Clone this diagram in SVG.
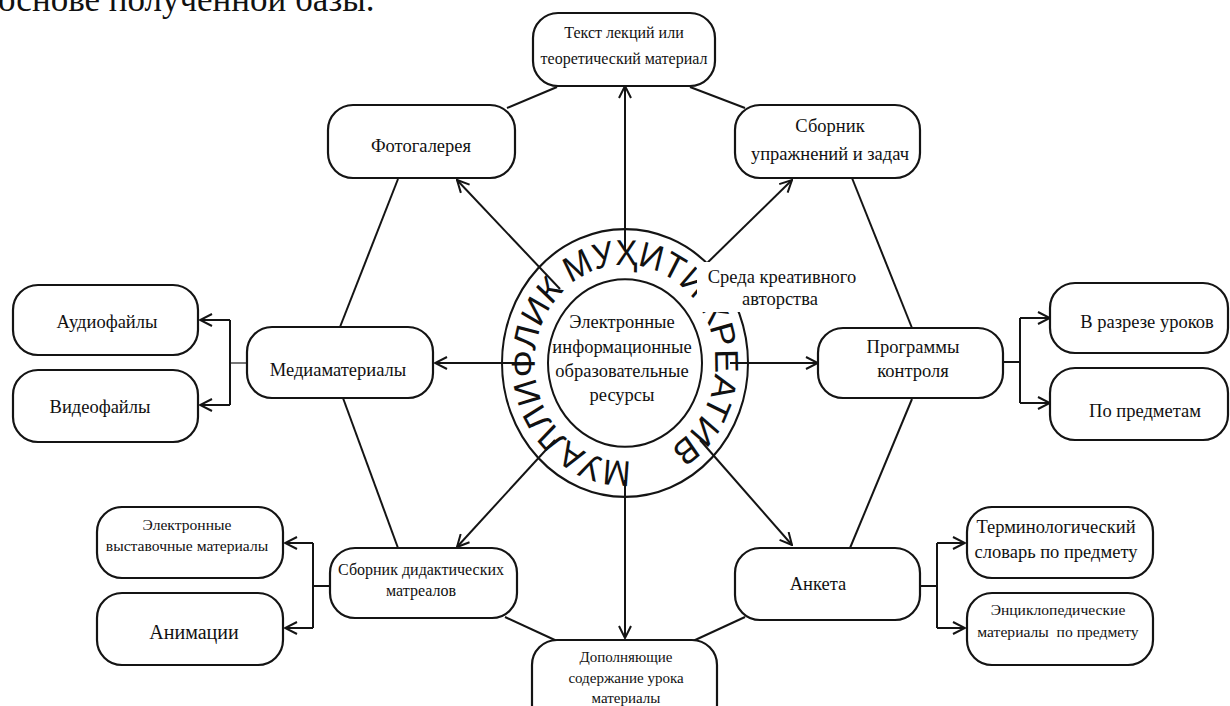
<svg xmlns="http://www.w3.org/2000/svg" width="1230" height="706" viewBox="0 0 1230 706">
  <style>
    .box { fill: #ffffff; stroke: #141414; stroke-width: 2.2; }
    .ln { fill: none; stroke: #141414; stroke-width: 2; }
    .arw { fill: none; stroke: #141414; stroke-width: 2; marker-end: url(#head); }
    .t { font-family: "Liberation Serif", "Times New Roman", serif; fill: #111; text-anchor: middle; }
    .s18 { font-size: 18.5px; }
    .s16 { font-size: 16px; }
    .s15 { font-size: 15px; }
    .s155 { font-size: 15.6px; }
    .ring { fill: none; stroke: #141414; stroke-width: 2; }
    .ringtext { font-family: "Liberation Sans", "DejaVu Sans", Arial, sans-serif; font-size: 33px; fill: #111; letter-spacing: -0.2px; }
  </style>
  <defs>
    <marker id="head" viewBox="0 0 14 14" refX="13" refY="7" markerWidth="14" markerHeight="14" markerUnits="userSpaceOnUse" orient="auto">
      <path d="M1,1 L13,7 L1,13" fill="none" stroke="#141414" stroke-width="2"/>
    </marker>
    <!-- clockwise circle, starting just right of the bottom point -->
    <path id="ringPath" d="M6.28,89.78 A90,90 0 1,1 -6.28,-89.78 A90,90 0 1,1 6.28,89.78"/>
  </defs>

  <rect width="1230" height="706" fill="#ffffff"/>

  <!-- running text of the page above the figure -->
  <text x="-2" y="11" font-family="Liberation Serif, Times New Roman, serif" font-size="35" fill="#111">основе полученной базы.</text>

  <!-- connectors -->
  <g id="connectors">
    <!-- outer hexagon links between neighbouring nodes -->
    <line class="ln" x1="507" y1="108" x2="557" y2="87"/>
    <line class="ln" x1="690" y1="87" x2="745" y2="108"/>
    <line class="ln" x1="398" y1="179" x2="340" y2="327"/>
    <line class="ln" x1="343" y1="398" x2="398" y2="548"/>
    <line class="ln" x1="505" y1="617" x2="557" y2="641"/>
    <line class="ln" x1="693" y1="641" x2="745" y2="617"/>
    <line class="ln" x1="912" y1="399" x2="850" y2="548"/>
    <line class="ln" x1="912" y1="328" x2="852" y2="178"/>

    <!-- radial arrows from the centre -->
    <line class="arw" x1="625" y1="250" x2="625" y2="86"/>
    <line class="arw" x1="625" y1="480" x2="625" y2="638"/>
    <line class="arw" x1="520" y1="363" x2="435" y2="363"/>
    <line class="arw" x1="730" y1="363" x2="818" y2="363"/>
    <line class="arw" x1="560" y1="289" x2="457" y2="180"/>
    <line class="arw" x1="700" y1="270" x2="792" y2="180"/>
    <line class="arw" x1="555" y1="440" x2="457" y2="547"/>
    <line class="arw" x1="700" y1="440" x2="792" y2="545"/>

    <!-- Медиаматериалы branch -->
    <line x1="247" y1="363" x2="230" y2="363" stroke="#555" stroke-width="1.6"/>
    <polyline class="ln" points="230,320 230,405"/>
    <line class="arw" x1="230" y1="320" x2="200" y2="320"/>
    <line class="arw" x1="230" y1="405" x2="200" y2="405"/>

    <!-- Программы контроля branch -->
    <line class="ln" x1="1003" y1="362" x2="1020" y2="362"/>
    <polyline class="ln" points="1020,318 1020,403"/>
    <line class="arw" x1="1020" y1="318" x2="1050" y2="318"/>
    <line class="arw" x1="1020" y1="403" x2="1050" y2="403"/>

    <!-- Сборник дидактических материалов branch -->
    <line class="ln" x1="330" y1="586" x2="313" y2="586"/>
    <polyline class="ln" points="313,543 313,628"/>
    <line class="arw" x1="313" y1="543" x2="285" y2="543"/>
    <line class="arw" x1="313" y1="628" x2="285" y2="628"/>

    <!-- Анкета branch -->
    <line class="ln" x1="920" y1="586" x2="937" y2="586"/>
    <polyline class="ln" points="937,543 937,628"/>
    <line class="arw" x1="937" y1="543" x2="965" y2="543"/>
    <line class="arw" x1="937" y1="628" x2="965" y2="628"/>
  </g>

  <!-- central ring with the circular caption -->
  <g id="centre" transform="translate(625,363) scale(1,1.088)">
    <circle r="123" fill="#ffffff" class="ring"/>
    <circle r="77" class="ring"/>
    <text class="ringtext"><textPath href="#ringPath">МУАЛЛИФЛИК МУҲИТИ КРЕАТИВ</textPath></text>
  </g>
  <g id="centre-label">
    <text class="t s18" x="622" y="328">Электронные</text>
    <text class="t s18" x="622" y="353">информационные</text>
    <text class="t s18" x="622" y="377">образовательные</text>
    <text class="t s18" x="622" y="401">ресурсы</text>
  </g>
  <g id="creative-env">
    <rect x="697" y="262" width="165" height="50" fill="#ffffff"/>
    <text class="t s18" x="782" y="283">Среда креативного</text>
    <text class="t s18" x="780" y="305">авторства</text>
  </g>

  <!-- nodes -->
  <g id="n-lectures">
    <rect class="box" x="533" y="13" width="182" height="73" rx="25"/>
    <text class="t s16" x="624" y="38">Текст лекций или</text>
    <text class="t s16" x="624" y="64">теоретический материал</text>
  </g>
  <g id="n-photo">
    <rect class="box" x="328" y="105" width="187" height="73" rx="25"/>
    <text class="t s18" x="421" y="152">Фотогалерея</text>
  </g>
  <g id="n-exercises">
    <rect class="box" x="735" y="105" width="185" height="73" rx="25"/>
    <text class="t s18" x="830" y="132">Сборник</text>
    <text class="t s18" x="830" y="160">упражнений и задач</text>
  </g>
  <g id="n-media">
    <rect class="box" x="247" y="327" width="186" height="71" rx="25"/>
    <text class="t s18" x="338" y="376">Медиаматериалы</text>
  </g>
  <g id="n-audio">
    <rect class="box" x="13" y="285" width="185" height="70" rx="25"/>
    <text class="t s18" x="107" y="328">Аудиофайлы</text>
  </g>
  <g id="n-video">
    <rect class="box" x="13" y="370" width="185" height="72" rx="25"/>
    <text class="t s18" x="100" y="413">Видеофайлы</text>
  </g>
  <g id="n-control">
    <rect class="box" x="818" y="328" width="185" height="70" rx="25"/>
    <text class="t s18" x="913" y="353">Программы</text>
    <text class="t s18" x="913" y="377">контроля</text>
  </g>
  <g id="n-lessons">
    <rect class="box" x="1050" y="283" width="178" height="70" rx="25"/>
    <text class="t s18" x="1147" y="328">В разрезе уроков</text>
  </g>
  <g id="n-subjects">
    <rect class="box" x="1050" y="368" width="178" height="72" rx="25"/>
    <text class="t s18" x="1145" y="417">По предметам</text>
  </g>
  <g id="n-didactic">
    <rect class="box" x="330" y="548" width="187" height="70" rx="25"/>
    <text class="t s16" x="421" y="575">Сборник дидактических</text>
    <text class="t s16" x="421" y="596">матреалов</text>
  </g>
  <g id="n-exhibition">
    <rect class="box" x="97" y="507" width="186" height="71" rx="25"/>
    <text class="t s155" x="187" y="530">Электронные</text>
    <text class="t s155" x="187" y="551">выставочные материалы</text>
  </g>
  <g id="n-animation">
    <rect class="box" x="97" y="593" width="186" height="72" rx="25"/>
    <text class="t" font-size="20" x="194" y="639">Анимации</text>
  </g>
  <g id="n-supplement">
    <rect class="box" x="532" y="640" width="185" height="90" rx="25"/>
    <text class="t s15" x="626" y="662">Дополняющие</text>
    <text class="t s15" x="626" y="683">содержание урока</text>
    <text class="t s15" x="626" y="703">материалы</text>
  </g>
  <g id="n-survey">
    <rect class="box" x="735" y="548" width="185" height="72" rx="25"/>
    <text class="t s18" x="818" y="590">Анкета</text>
  </g>
  <g id="n-glossary">
    <rect class="box" x="967" y="507" width="186" height="71" rx="25"/>
    <text class="t s18" x="1056" y="533">Терминологический</text>
    <text class="t s18" x="1056" y="558">словарь по предмету</text>
  </g>
  <g id="n-encyclopedia">
    <rect class="box" x="967" y="593" width="186" height="72" rx="25"/>
    <text class="t s155" x="1058" y="615">Энциклопедические</text>
    <text class="t s155" x="1058" y="637" xml:space="preserve">материалы  по предмету</text>
  </g>
</svg>
